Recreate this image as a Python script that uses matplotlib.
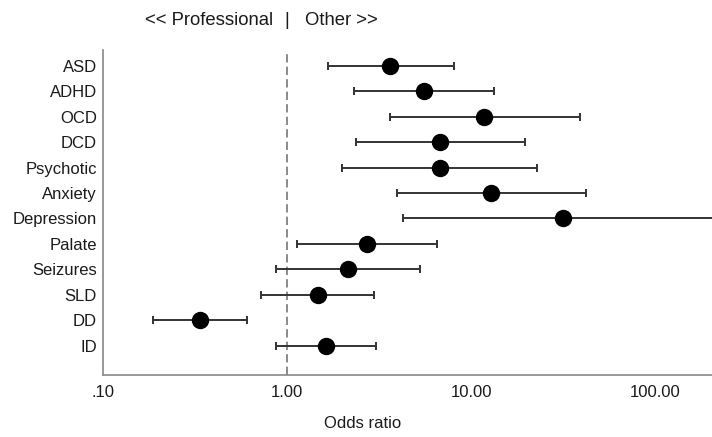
import numpy as np
import matplotlib
matplotlib.use("Agg")
import matplotlib.pyplot as plt

plt.rcParams['font.family'] = ['Liberation Sans', 'DejaVu Sans']

# conditions, listed from top to bottom
labels = ['ASD', 'ADHD', 'OCD', 'DCD', 'Psychotic', 'Anxiety', 'Depression',
          'Palate', 'Seizures', 'SLD', 'DD', 'ID']
odds = [3.65, 5.56, 11.8, 6.80, 6.74, 12.9, 31.8, 2.73, 2.15, 1.47, 0.336, 1.63]
ci_low = [1.66, 2.30, 3.62, 2.37, 1.99, 3.94, 4.27, 1.14, 0.87, 0.72, 0.188, 0.87]
ci_high = [8.07, 13.4, 39.1, 19.7, 22.9, 42.1, 260.0, 6.54, 5.31, 2.98, 0.607, 3.05]
xticks = [0.1, 1, 10, 100]
xticklabels = ['.10', '1.00', '10.00', '100.00']

fig = plt.figure(figsize=(7.12, 4.37), dpi=100)
ax = fig.add_axes([0.1447, 0.142, 0.8553, 0.744])

y = np.arange(len(labels))[::-1]
odds = np.array(odds)
err = [odds - np.array(ci_low), np.array(ci_high) - odds]

ax.axvline(1, color='#777777', linestyle=(0, (5, 2.5)), linewidth=1.2, zorder=1)
ax.errorbar(odds, y, xerr=err, fmt='o', color='black', ecolor='#333333',
            elinewidth=1.4, capsize=3, capthick=1.4, markersize=11.5, zorder=3)

ax.set_xscale('log')
ax.set_xlim(0.1, 204)
ax.set_ylim(-1.14, 11.62)
ax.set_xticks(xticks)
ax.set_xticklabels(xticklabels)
ax.minorticks_off()
ax.set_yticks(y)
ax.set_yticklabels(labels)
ax.tick_params(length=0, labelsize=12, colors='#1a1a1a')
ax.tick_params(axis='x', pad=7)
ax.tick_params(axis='y', pad=4.5)

for s in ['top', 'right']:
    ax.spines[s].set_visible(False)
for s in ['left', 'bottom']:
    ax.spines[s].set_color('#888888')
    ax.spines[s].set_linewidth(1.2)

ax.set_xlabel('Odds ratio', fontsize=12, color='#1a1a1a')
ax.xaxis.set_label_coords(0.427, -0.125)

# direction annotation above the plot
fig.text(0.383, 0.953, '<< Professional', ha='right', va='center', fontsize=13.3, color='#1a1a1a')
fig.text(0.4027, 0.953, '|', ha='center', va='center', fontsize=13.3, color='#1a1a1a')
fig.text(0.428, 0.953, 'Other >>', ha='left', va='center', fontsize=13.3, color='#1a1a1a')

fig.savefig('out.png', dpi=100)
